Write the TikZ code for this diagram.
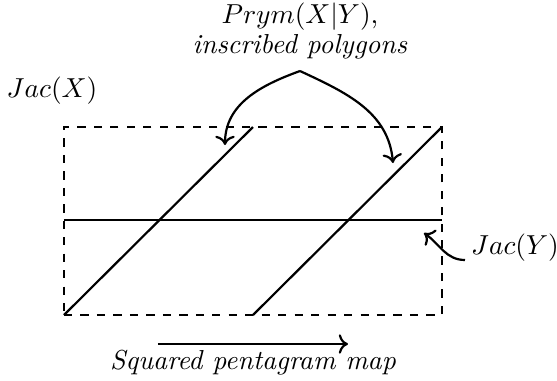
\documentclass[tikz,border=0pt]{standalone}
\usepackage{amsmath,amssymb}
\usepackage{tikz}
\usetikzlibrary{arrows.meta,positioning,calc}

\begin{document}
\begin{tikzpicture}[
  x=0.0128cm, y=-0.0128cm, >=To,
  frame/.style={dashed, thick},
  seg/.style={thick},
  arr/.style={->, thick},
  lbl/.style={inner sep=1pt, align=center}]
  \useasboundingbox (0,0) rectangle (557,381);
  % --- corners of Jac(X) ---
  \coordinate (sw) at (64,315);
  \coordinate (se) at (442,315);
  \coordinate (ne) at (442,127);
  \coordinate (nw) at (64,127);
  \coordinate (mw) at (64,220);
  \coordinate (me) at (442,220);
  \coordinate (tm) at (253,127);
  \coordinate (bm) at (253,315);
  % --- labels ---
  \node[lbl] (jx)   at (52,91)   {$Jac(X)$};
  \node[lbl] (jy)   at (515,248) {$Jac(Y)$};
  \node[lbl] (prym) at (300,31)  {$Prym(X|Y)$,\\[-1pt]\textit{inscribed polygons}};
  \node[lbl] (map)  at (253,363) {\textit{Squared pentagram map}};
  \coordinate (src) at (300,71);
  \coordinate (hl)  at (225,145);
  \coordinate (hr)  at (393,163);
  \coordinate (ys)  at (465,260);
  \coordinate (ye)  at (424,233);
  \coordinate (ms)  at (158,344);
  \coordinate (me2) at (348,344);
  % --- torus ---
  \draw[frame] (sw) -- (se) -- (ne) -- (nw) -- cycle;
  \draw[seg] (mw) -- (me);
  \draw[seg] (sw) -- (tm);
  \draw[seg] (bm) -- (ne);
  % --- arrows ---
  \draw[arr] (src) to[out=200, in=90] (hl);
  \draw[arr] (src) to[out=-25, in=95] (hr);
  \draw[arr] (ys) to[out=180, in=-35] (ye);
  \draw[arr] (ms) -- (me2);
\end{tikzpicture}
\end{document}
